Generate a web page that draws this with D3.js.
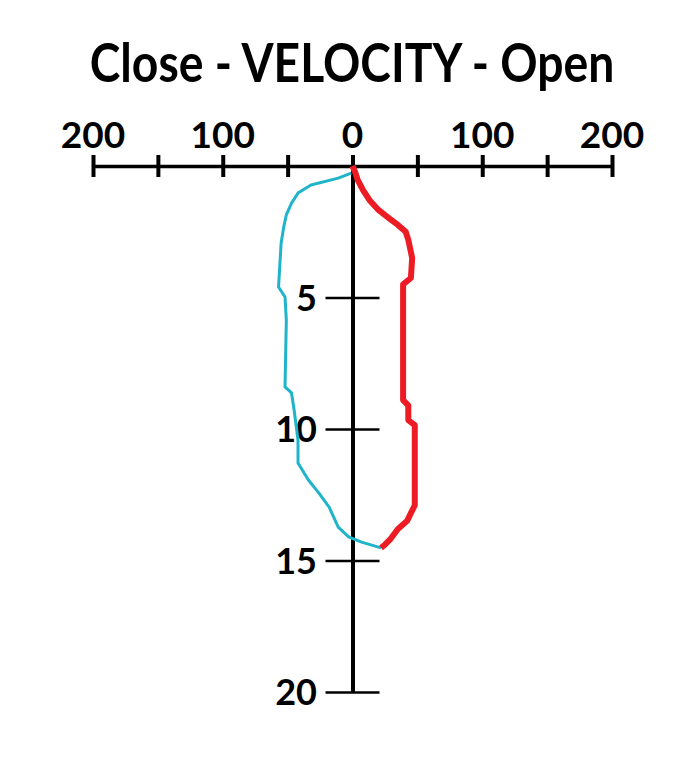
<!DOCTYPE html>
<html><head><meta charset="utf-8">
<script src="https://cdn.jsdelivr.net/npm/d3@7"></script>
<style>body{margin:0;background:#fff}svg{display:block}</style>
</head><body>
<script>
const title = "Close - VELOCITY - Open";
const xTicks = [-200,-150,-100,-50,0,50,100,150,200];
const xLabelTicks = [-200,-100,0,100,200];
const yTicks = [5,10,15,20];
// Open (red): depth, velocity
const openDepth = [0,0.23,0.53,0.91,1.29,1.67,1.98,2.24,2.5,2.81,3.5,4.26,4.5,8.9,9.1,9.66,9.85,12.9,13.2,13.5,13.8,14.2,14.4,14.52];
const openVel   = [0,2,4,8,13,20,28,35,41,43,46,45,39,39,43,43,48,48,45,42,35,29,25,22];
// Close (cyan)
const closeDepth = [0.27,0.46,0.72,1.03,1.41,1.86,2.32,2.93,3.76,4.6,4.98,5.86,8.4,8.63,9.28,10.42,11.29,11.94,12.43,12.97,13.73,14.1,14.3,14.52];
const closeVel   = [-1,-11,-32,-42,-47,-51,-53,-55,-56,-57,-52,-51,-52,-47,-45,-42,-42,-34,-26,-18,-11,-3,7,22];

const W=696,H=768;
const svg=d3.select("body").append("svg").attr("width",W).attr("height",H);
const x=d3.scaleLinear().domain([-200,200]).range([93,612]);
const y=d3.scaleLinear().domain([0,20]).range([166,692]);
const font="Lato, 'Open Sans', sans-serif";

svg.append("text").attr("transform","translate(352,82) scale(0.857,1)").attr("text-anchor","middle")
  .attr("font-family",font).attr("font-weight","bold").attr("font-size",54)
  .text(title);

// x axis
const xa=svg.append("g").attr("transform",`translate(0,${y(0)})`)
  .call(d3.axisTop(x).tickValues(xTicks).tickSize(0).tickFormat(""));
xa.select(".domain").attr("stroke","#000").attr("stroke-width",3.5);
xa.selectAll(".tick line").attr("y1",-11).attr("y2",11).attr("stroke","#000").attr("stroke-width",4);
svg.selectAll(".xl").data(xLabelTicks).enter().append("text")
  .attr("x",d=>x(d)).attr("y",148).attr("text-anchor","middle")
  .attr("font-family",font).attr("font-weight","bold").attr("font-size",37)
  .text(d=>Math.abs(d));

// y axis
const ya=svg.append("g").attr("transform",`translate(${x(0)},0)`)
  .call(d3.axisLeft(y).tickValues(yTicks).tickSize(0).tickFormat(""));
ya.select(".domain").attr("stroke","#000").attr("stroke-width",4);
ya.selectAll(".tick line").attr("x1",-27).attr("x2",27).attr("stroke","#000").attr("stroke-width",2.5);
svg.selectAll(".yl").data(yTicks).enter().append("text")
  .attr("x",317).attr("y",d=>y(d)+13).attr("text-anchor","end")
  .attr("font-family",font).attr("font-weight","bold").attr("font-size",36)
  .text(d=>d);

const line=d3.line().x(d=>x(d[1])).y(d=>y(d[0]));
svg.append("path").datum(closeDepth.map((d,i)=>[d,closeVel[i]]))
  .attr("d",line).attr("fill","none").attr("stroke","#1fb4c9").attr("stroke-width",3).attr("stroke-linejoin","round");
svg.append("path").datum(openDepth.map((d,i)=>[d,openVel[i]]))
  .attr("d",line).attr("fill","none").attr("stroke","#ed1c24").attr("stroke-width",6).attr("stroke-linejoin","round");
</script>
</body></html>
